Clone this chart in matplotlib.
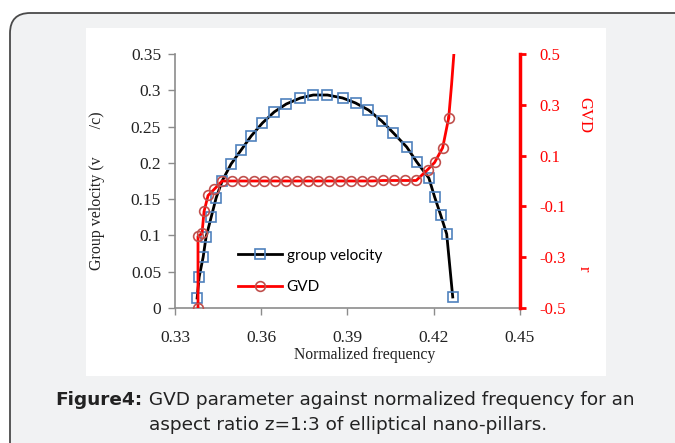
import numpy as np
import matplotlib as mpl
mpl.use('Agg')
import matplotlib.pyplot as plt
from matplotlib.patches import FancyBboxPatch, Rectangle

# group velocity (squares)
gv_freq = [0.3377, 0.3384, 0.3398, 0.3408, 0.3426, 0.3443, 0.3464, 0.3495, 0.3530,
           0.3565, 0.3604, 0.3645, 0.3687, 0.3736, 0.3781, 0.3830, 0.3883, 0.3928,
           0.3973, 0.4019, 0.4060, 0.4106, 0.4141, 0.4183, 0.4203, 0.4224, 0.4245, 0.4266]
gv_vals = [0.0138, 0.0427, 0.0703, 0.0978, 0.1254, 0.1516, 0.1750, 0.1984, 0.2177,
           0.2370, 0.2549, 0.2701, 0.2811, 0.2894, 0.2935, 0.2935, 0.2894, 0.2825,
           0.2728, 0.2577, 0.2411, 0.2218, 0.2012, 0.1791, 0.1530, 0.1282, 0.1020, 0.0152]

# GVD (circles)
gvd_freq = [0.3380, 0.3380, 0.3394, 0.3401, 0.3415, 0.3436, 0.3464, 0.3499, 0.3536,
            0.3574, 0.3611, 0.3649, 0.3686, 0.3724, 0.3761, 0.3799, 0.3836, 0.3874,
            0.3911, 0.3949, 0.3986, 0.4024, 0.4061, 0.4099, 0.4139, 0.4179, 0.4203,
            0.4231, 0.4252]
gvd_vals = [-0.500, -0.218, -0.206, -0.120, -0.057, -0.033, 0.000, 0.000, 0.000,
            0.000, 0.000, 0.000, 0.000, 0.000, 0.000, 0.000, 0.000, 0.000,
            0.000, 0.000, 0.000, 0.002, 0.002, 0.002, 0.002, 0.045, 0.073,
            0.131, 0.249]
# end of the red curve beyond the last marker
gvd_tail_freq = [0.4252, 0.4262, 0.4270]
gvd_tail_vals = [0.249, 0.380, 0.500]

fig = plt.figure(figsize=(6.75, 4.43), dpi=100)
W, H = 675., 443.

# framed grey box + white chart panel
box = FancyBboxPatch((10/W, -20/H), 700/W, 450/H, boxstyle="round,pad=0,rounding_size=0.03",
                     transform=fig.transFigure, facecolor='#f1f2f3', edgecolor='#4a4a4a',
                     linewidth=1.3, mutation_aspect=W/H, zorder=-2)
fig.patches.append(box)
fig.patches.append(Rectangle((86/W, 1-376/H), 520/W, 348/H, transform=fig.transFigure,
                             facecolor='white', edgecolor='none', zorder=-1))

ax = fig.add_axes([175/W, 1-308/H, 345/W, 254/H])
ax.patch.set_alpha(0)
ax.plot(gv_freq, gv_vals, color='black', linewidth=2.0, marker='s', markersize=7,
        markerfacecolor='none', markeredgecolor='#4f81bd', markeredgewidth=1.2,
        label='group velocity', zorder=3)
ax.set_xlim(0.33, 0.45)
ax.set_ylim(0, 0.35)
ax.set_xticks([0.33, 0.36, 0.39, 0.42, 0.45])
ax.set_xticklabels(['0.33', '0.36', '0.39', '0.42', '0.45'])
ax.set_yticks([0, 0.05, 0.1, 0.15, 0.2, 0.25, 0.3, 0.35])
ax.set_yticklabels(['0', '0.05', '0.1', '0.15', '0.2', '0.25', '0.3', '0.35'])
for s in ['top', 'right']:
    ax.spines[s].set_visible(False)
for s in ['left', 'bottom']:
    ax.spines[s].set_color('#8c8c8c')
    ax.spines[s].set_linewidth(1.2)
ax.tick_params(axis='both', direction='out', length=5, color='#8c8c8c', width=1.0,
               labelsize=12.5, labelcolor='#222222')
for lbl in ax.get_xticklabels() + ax.get_yticklabels():
    lbl.set_family('Liberation Serif')
ax.tick_params(axis='x', pad=11)
ax.tick_params(axis='y', pad=5)

ax2 = ax.twinx()
ax2.plot(gvd_tail_freq, gvd_tail_vals, color='#ff0000', linewidth=2.0, zorder=2)
ax2.plot(gvd_freq, gvd_vals, color='#ff0000', linewidth=2.0, marker='o', markersize=7,
         markerfacecolor='none', markeredgecolor='#c0504d', markeredgewidth=1.2,
         label='GVD', zorder=3)
ax2.set_ylim(-0.5, 0.5)
ax2.set_yticks([-0.5, -0.3, -0.1, 0.1, 0.3, 0.5])
ax2.set_yticklabels(['-0.5', '-0.3', '-0.1', '0.1', '0.3', '0.5'])
for s in ['top', 'left', 'bottom']:
    ax2.spines[s].set_visible(False)
ax2.spines['right'].set_color('#ff0000')
ax2.spines['right'].set_linewidth(2.5)
ax2.tick_params(axis='y', direction='out', length=4, color='#ff0000', width=2,
                labelsize=12, labelcolor='#ff0000', pad=10)
for lbl in ax2.get_yticklabels():
    lbl.set_family('Liberation Serif')

h1, l1 = ax.get_legend_handles_labels()
h2, l2 = ax2.get_legend_handles_labels()
leg = fig.legend(h1 + h2, l1 + l2, loc='upper left', bbox_to_anchor=(224/W, 1-235/H),
                 frameon=False, handlelength=2.9, handletextpad=0.3, labelspacing=1.15,
                 prop={'family': 'Lato', 'size': 11})

# axis titles
fig.text(97/W, 1-191/H, 'Group velocity (v       /c)', rotation=90, ha='center', va='center',
         family='Liberation Serif', fontsize=11.5, color='#222222')
fig.text(365/W, 1-355/H, 'Normalized frequency', ha='center', va='center',
         family='Liberation Serif', fontsize=11.3, color='#222222')
fig.text(584/W, 1-115/H, 'GVD', rotation=270, ha='center', va='center',
         family='Liberation Serif', fontsize=12, color='#ff0000')
fig.text(584/W, 1-269/H, 'r', rotation=270, ha='center', va='center',
         family='Liberation Serif', fontsize=12, color='#ff0000')

# caption (bold label followed by regular text, centred as one line)
cap_kw = dict(va='center', family='DejaVu Sans', fontsize=13.3, color='#222222')
renderer = fig.canvas.get_renderer()
t_bold = fig.text(0, 1-400/H, 'Figure4:', ha='left', fontweight='bold', **cap_kw)
t_rest = fig.text(0, 1-400/H, ' GVD parameter against normalized frequency for an', ha='left', **cap_kw)
wb = t_bold.get_window_extent(renderer).width
wr = t_rest.get_window_extent(renderer).width
x0 = 345 - (wb + wr) / 2
t_bold.set_x(x0 / W)
t_rest.set_x((x0 + wb) / W)
fig.text(348/W, 1-425/H, 'aspect ratio z=1:3 of elliptical nano-pillars.', ha='center', **cap_kw)

fig.savefig('out.png', dpi=100)
